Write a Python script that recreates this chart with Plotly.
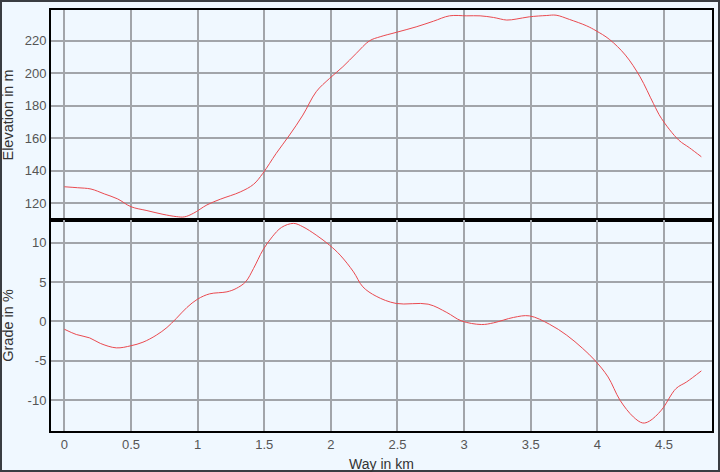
import plotly.graph_objects as go

# Elevation profile (km, m)
elev_km = [0.0, 0.1, 0.2, 0.3, 0.4, 0.5, 0.62, 0.74, 0.84, 0.9, 0.97, 1.07, 1.17, 1.32, 1.42, 1.49,
           1.59, 1.69, 1.79, 1.89, 1.99, 2.09, 2.19, 2.29, 2.37, 2.49, 2.64, 2.77, 2.89, 3.02, 3.12,
           3.22, 3.32, 3.39, 3.49, 3.62, 3.69, 3.79, 3.92, 3.99, 4.09, 4.21, 4.32, 4.42, 4.48, 4.61,
           4.69, 4.78]
elev_m = [130.0, 129.4, 128.6, 125.6, 122.5, 117.7, 115.3, 113.0, 111.6, 111.4, 113.7, 118.8, 122.3,
          126.8, 131.5, 138.3, 150.6, 161.9, 174.2, 188.6, 196.8, 204.0, 212.2, 220.0, 222.5, 225.2,
          228.6, 232.1, 235.4, 235.4, 235.4, 234.4, 232.8, 233.4, 234.8, 235.6, 235.8, 233.2, 229.2,
          226.2, 220.9, 211.2, 197.8, 181.4, 172.2, 158.8, 154.1, 148.5]

# Grade profile (km, %)
grade_km = [0.0, 0.09, 0.19, 0.27, 0.39, 0.5, 0.59, 0.69, 0.77, 0.84, 0.92, 1.0, 1.09, 1.22, 1.29,
            1.36, 1.42, 1.49, 1.56, 1.63, 1.72, 1.79, 1.89, 1.99, 2.07, 2.17, 2.24, 2.34, 2.49, 2.73,
            2.87, 2.98, 3.13, 3.22, 3.37, 3.49, 3.64, 3.77, 3.89, 3.98, 4.08, 4.17, 4.27, 4.34, 4.39,
            4.48, 4.59, 4.67, 4.78]
grade_pct = [-1.0, -1.67, -2.1, -2.8, -3.37, -3.1, -2.65, -1.76, -0.78, 0.37, 1.77, 2.83, 3.5, 3.76,
             4.19, 5.03, 6.74, 9.07, 10.76, 11.96, 12.47, 12.04, 10.98, 9.7, 8.43, 6.3, 4.4, 3.2,
             2.28, 2.19, 1.13, 0.06, -0.4, -0.19, 0.5, 0.7, -0.36, -1.76, -3.45, -4.94, -7.07,
             -10.04, -12.16, -12.93, -12.7, -11.3, -8.55, -7.7, -6.3]

x_ticks = [0, 0.5, 1, 1.5, 2, 2.5, 3, 3.5, 4, 4.5]
x_tick_labels = ["0", "0.5", "1", "1.5", "2", "2.5", "3", "3.5", "4", "4.5"]
elev_ticks = [120, 140, 160, 180, 200, 220]
grade_ticks = [-10, -5, 0, 5, 10]
grade_tick_labels = ["-10", "-5", "0", "5", "10"]

BG = "#F0F8FF"
LINE = "#ea4a50"
GRID = "#a2a5aa"
W, H = 720, 472
ML, MR, MT, MB = 51, 8, 10, 41
PW, PH = W - ML - MR, H - MT - MB
split = (431 - 220) / PH

fig = go.Figure()
fig.add_trace(go.Scatter(x=elev_km, y=elev_m, mode="lines", line=dict(color=LINE, width=1, shape="spline"),
                         xaxis="x", yaxis="y", showlegend=False))
fig.add_trace(go.Scatter(x=grade_km, y=grade_pct, mode="lines", line=dict(color=LINE, width=1, shape="spline"),
                         xaxis="x2", yaxis="y2", showlegend=False))

tickfont = dict(family="Liberation Sans, Arial, sans-serif", size=13, color="#555555")
ytitlefont = dict(family="Liberation Sans, Arial, sans-serif", size=14.5, color="#333333")
xtitlefont = dict(family="Liberation Sans, Arial, sans-serif", size=14, color="#333333")
common_x = dict(range=[-0.1, 4.86], tickvals=x_ticks, showgrid=True, gridcolor=GRID, gridwidth=1.5,
                zeroline=False, showline=True, linecolor="black", linewidth=2, mirror=True,
                tickfont=tickfont, automargin=False)
common_y = dict(showgrid=True, gridcolor=GRID, gridwidth=1.5, zeroline=False, showline=True,
                linecolor="black", linewidth=2, mirror=True, tickfont=tickfont, automargin=False)
fig.update_layout(
    width=W, height=H,
    margin=dict(l=ML, r=MR, t=MT, b=MB, autoexpand=False),
    paper_bgcolor=BG, plot_bgcolor=BG,
    xaxis=dict(common_x, domain=[0, 1], anchor="y", showticklabels=False, matches="x2"),
    yaxis=dict(common_y, domain=[split, 1], range=[109.5, 239], tickvals=elev_ticks,
               title=dict(text="Elevation in m", font=ytitlefont)),
    xaxis2=dict(common_x, domain=[0, 1], anchor="y2", ticktext=x_tick_labels,
                title=dict(text="Way in km", font=xtitlefont)),
    yaxis2=dict(common_y, domain=[0, split], range=[-13.95, 12.9], tickvals=grade_ticks,
                ticktext=grade_tick_labels,
                title=dict(text="Grade in %", font=ytitlefont)),
    shapes=[dict(type="rect", xref="paper", yref="paper",
                 x0=(-ML + 1) / PW, x1=1 + (MR - 1) / PW, y0=(-MB + 1) / PH, y1=1 + (MT - 1) / PH,
                 line=dict(color="#3a3d42", width=2))],
)

fig.write_html("out.html", config={"displayModeBar": False},
               post_script="document.body.style.margin='0';document.body.style.background='#F0F8FF';")
